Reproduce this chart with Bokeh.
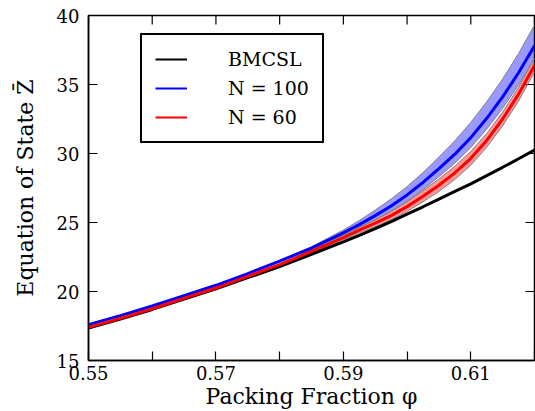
import math

from bokeh.plotting import figure
from bokeh.models import FixedTicker, Legend, LegendItem
from bokeh.embed import file_html
from bokeh.resources import INLINE

# Packing fraction grid (denser where the curves bend)
phi = [0.55, 0.555, 0.56, 0.565, 0.57, 0.575, 0.58, 0.585, 0.59,
       0.5925, 0.595, 0.5975, 0.60, 0.6025, 0.605, 0.6075, 0.61,
       0.6125, 0.615, 0.6175, 0.62]

# BMCSL equation of state
z_bmcsl = [17.35, 18.0, 18.7, 19.45, 20.2, 21.0, 21.8, 22.7, 23.6,
           24.07, 24.55, 25.07, 25.6, 26.14, 26.7, 27.25, 27.8,
           28.4, 29.0, 29.62, 30.25]

# Simulation, N = 100 (mean and spread)
z_n100 = [17.6, 18.25, 18.95, 19.7, 20.45, 21.3, 22.2, 23.15, 24.25,
          24.85, 25.5, 26.2, 27.0, 27.9, 28.9, 29.95, 31.15,
          32.55, 34.1, 35.85, 37.8]
z_n100_lo = [17.6, 18.25, 18.95, 19.7, 20.45, 21.3, 22.17, 23.07, 24.1,
             24.63, 25.2, 25.82, 26.55, 27.38, 28.32, 29.3, 30.43,
             31.77, 33.27, 34.98, 36.9]
z_n100_hi = [17.6, 18.25, 18.95, 19.7, 20.45, 21.3, 22.24, 23.25, 24.45,
             25.15, 25.9, 26.7, 27.6, 28.62, 29.75, 30.92, 32.25,
             33.75, 35.4, 37.25, 39.3]

# Simulation, N = 60 (mean and spread)
z_n60 = [17.4, 18.05, 18.75, 19.5, 20.25, 21.1, 21.95, 22.9, 23.9,
         24.45, 24.95, 25.5, 26.15, 26.9, 27.7, 28.6, 29.65,
         30.95, 32.5, 34.3, 36.4]
z_n60_lo = [17.4, 18.05, 18.75, 19.5, 20.25, 21.1, 21.9, 22.8, 23.75,
            24.25, 24.7, 25.2, 25.8, 26.5, 27.25, 28.12, 29.15,
            30.45, 32.0, 33.8, 35.9]
z_n60_hi = [17.4, 18.05, 18.75, 19.5, 20.25, 21.1, 22.0, 23.0, 24.05,
            24.65, 25.2, 25.8, 26.5, 27.3, 28.15, 29.08, 30.15,
            31.45, 33.0, 34.8, 36.9]

x_labeled = [0.55, 0.57, 0.59, 0.61]
x_unlabeled = [0.56, 0.58, 0.60, 0.62]
x_all = [0.55, 0.56, 0.57, 0.58, 0.59, 0.60, 0.61, 0.62]
y_ticks = [15, 20, 25, 30, 35, 40]
X_MIN, X_MAX = 0.55, 0.62
Y_MIN, Y_MAX = 15, 40

FONT = "DejaVu Serif"
TICK_SIZE = "18px"
LABEL_SIZE = "22px"
TICK_LEN = 9

p = figure(width=535, height=411, x_range=(X_MIN, X_MAX), y_range=(Y_MIN, Y_MAX),
           output_backend="svg", toolbar_location=None,
           min_border_left=88, min_border_right=1,
           min_border_top=15, min_border_bottom=51)
p.xgrid.visible = False
p.ygrid.visible = False
p.outline_line_color = "black"
p.outline_line_width = 1.5
p.background_fill_color = "white"
p.border_fill_color = "white"

for ax in (p.xaxis[0], p.yaxis[0]):
    ax.axis_line_color = "black"
    ax.axis_line_width = 1.5
    ax.major_tick_in = TICK_LEN
    ax.major_tick_out = 0
    ax.minor_tick_in = TICK_LEN
    ax.minor_tick_out = 0
    ax.major_tick_line_color = "black"
    ax.minor_tick_line_color = "black"
    ax.major_tick_line_width = 1.2
    ax.minor_tick_line_width = 1.2
    ax.major_label_text_font = FONT
    ax.major_label_text_font_size = TICK_SIZE
    ax.major_label_text_color = "black"
    ax.axis_label_text_font = FONT
    ax.axis_label_text_font_size = LABEL_SIZE
    ax.axis_label_text_font_style = "normal"
    ax.axis_label_text_color = "black"

p.xaxis.ticker = FixedTicker(ticks=x_labeled, minor_ticks=x_unlabeled)
p.yaxis.ticker = FixedTicker(ticks=y_ticks, minor_ticks=[])
p.xaxis.major_label_standoff = 5
p.yaxis.major_label_standoff = 9

p.xaxis.axis_label = "Packing Fraction \u03c6"
p.xaxis.axis_label_standoff = 1
p.yaxis.axis_label = "Equation of State Z\u0304"
p.yaxis.axis_label_standoff = 16

# Inward ticks on the top and right edges of the frame
p.ray(x=x_all, y=[Y_MAX] * len(x_all), length=TICK_LEN, length_units="screen",
      angle=-math.pi / 2, line_color="black", line_width=1.2)
p.ray(x=[X_MAX] * len(y_ticks), y=y_ticks, length=TICK_LEN, length_units="screen",
      angle=math.pi, line_color="black", line_width=1.2)

# Uncertainty bands
p.varea(x=phi, y1=z_n100_lo, y2=z_n100_hi, fill_color="blue", fill_alpha=0.4)
p.line(phi, z_n100_lo, line_color="gray", line_width=1)
p.line(phi, z_n100_hi, line_color="gray", line_width=1)
p.varea(x=phi, y1=z_n60_lo, y2=z_n60_hi, fill_color="red", fill_alpha=0.4)
p.line(phi, z_n60_lo, line_color="gray", line_width=1)
p.line(phi, z_n60_hi, line_color="gray", line_width=1)

# Curves
p.line(phi, z_bmcsl, line_color="black", line_width=3)
p.line(phi, z_n100, line_color="blue", line_width=3)
p.line(phi, z_n60, line_color="red", line_width=3)

# Legend swatches are drawn a little thinner than the curves
nan = float("nan")
key_bmcsl = p.line([nan], [nan], line_color="black", line_width=2)
key_n100 = p.line([nan], [nan], line_color="blue", line_width=2)
key_n60 = p.line([nan], [nan], line_color="red", line_width=2)

legend = Legend(items=[
    LegendItem(label="BMCSL", renderers=[key_bmcsl]),
    LegendItem(label="N = 100", renderers=[key_n100]),
    LegendItem(label="N = 60", renderers=[key_n60]),
], location=(52, 217))
legend.label_text_font = FONT
legend.label_text_font_size = "19px"
legend.label_text_color = "black"
legend.glyph_width = 32
legend.glyph_height = 22
legend.label_height = 22
legend.label_standoff = 41
legend.spacing = 7
legend.padding = 13
legend.margin = 0
legend.border_line_color = "black"
legend.border_line_alpha = 1.0
legend.border_line_width = 2
legend.background_fill_color = "white"
legend.background_fill_alpha = 1.0
p.add_layout(legend, "center")

open("out.html", "w").write(file_html(p, INLINE))
